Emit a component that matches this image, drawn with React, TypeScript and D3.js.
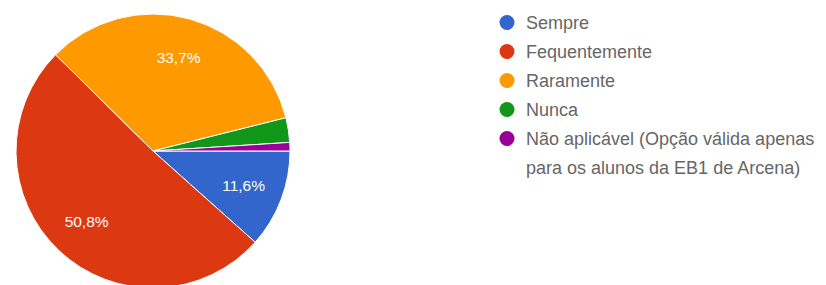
import { useEffect, useRef } from 'react';
import * as d3 from 'd3';

const categories = [
  'Sempre',
  'Fequentemente',
  'Raramente',
  'Nunca',
  'Não aplicável (Opção válida apenas|para os alunos da EB1 de Arcena)',
];
const values = [11.6, 50.8, 33.7, 2.9, 1.0];
const colors = ['#3366cc', '#dc3912', '#ff9900', '#109618', '#990099'];

export default function App() {
  const svgRef = useRef<SVGSVGElement>(null);

  useEffect(() => {
    const svg = d3.select(svgRef.current);
    svg.selectAll('*').remove();

    const width = 826;
    const height = 285;
    const cx = 153;
    const cy = 151;
    const radius = 137;

    svg.attr('width', width).attr('height', height);

    const data = categories.map((name, i) => ({ name, value: values[i], color: colors[i] }));

    // slices start at 3 o'clock and run clockwise
    const pie = d3
      .pie<any>()
      .sort(null)
      .value((d) => d.value)
      .startAngle(Math.PI / 2)
      .endAngle(Math.PI / 2 + 2 * Math.PI);

    const arc = d3.arc<any>().innerRadius(0).outerRadius(radius);
    const labelArc = d3.arc<any>().innerRadius(97).outerRadius(97);

    const g = svg.append('g').attr('transform', `translate(${cx},${cy})`);
    const arcs = pie(data);

    g.selectAll('path')
      .data(arcs)
      .enter()
      .append('path')
      .attr('d', arc)
      .attr('fill', (d) => d.data.color)
      .attr('stroke', '#fff')
      .attr('stroke-width', 1);

    const fmt = d3.format('.1f');
    g.selectAll('text.pct')
      .data(arcs.filter((d) => d.data.value > 5))
      .enter()
      .append('text')
      .attr('class', 'pct')
      .attr('transform', (d) => `translate(${labelArc.centroid(d)})`)
      .attr('text-anchor', 'middle')
      .attr('dy', '0.35em')
      .attr('fill', '#fff')
      .style('font-family', 'Arial, "Liberation Sans", sans-serif')
      .style('font-size', '15.5px')
      .text((d) => fmt(d.data.value).replace('.', ',') + '%');

    // Legend
    const legendX = 507;
    const legendY = 22.5;
    const rowStep = 29;
    const legend = svg.append('g');
    data.forEach((d, i) => {
      const y = legendY + i * rowStep;
      legend.append('circle').attr('cx', legendX).attr('cy', y).attr('r', 7.5).attr('fill', d.color);
      const lines = d.name.split('|');
      lines.forEach((line, j) => {
        legend
          .append('text')
          .attr('x', legendX + 19)
          .attr('y', y + j * rowStep)
          .attr('dy', '0.35em')
          .attr('fill', '#666')
          .style('font-family', 'Arial, "Liberation Sans", sans-serif')
          .style('font-size', '18px')
          .text(line);
      });
    });
  }, []);

  return (
    <div style={{ position: 'absolute', left: 0, top: 0 }}>
      <svg ref={svgRef} style={{ display: 'block' }}></svg>
    </div>
  );
}
